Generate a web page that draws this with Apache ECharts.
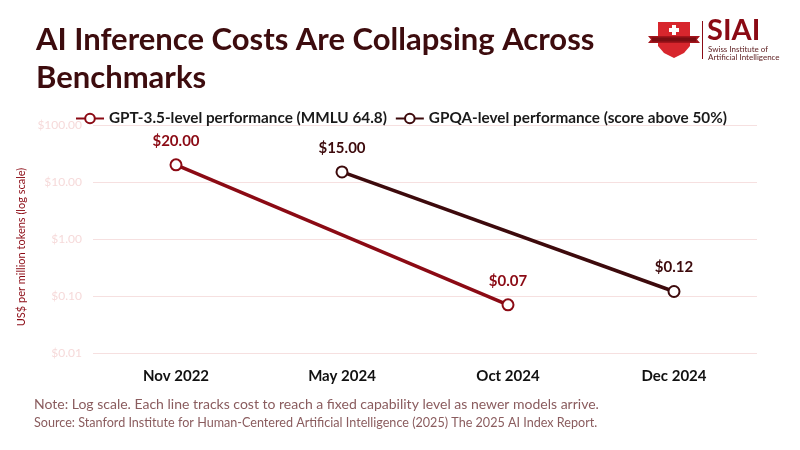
<!DOCTYPE html>
<html>
<head>
<meta charset="utf-8">
<script src="https://cdn.jsdelivr.net/npm/echarts@6/dist/echarts.min.js"></script>
<style>
html,body{margin:0;padding:0;background:#fff;}
#main{width:800px;height:450px;}
</style>
</head>
<body>
<div id="main"></div>
<script>
const categories = ['Nov 2022', 'May 2024', 'Oct 2024', 'Dec 2024'];
const gpt35Values = [20, null, 0.07, null];
const gpqaValues = [null, 15, null, 0.12];
const seriesNames = ['GPT-3.5-level performance (MMLU 64.8)', 'GPQA-level performance (score above 50%)'];
const yTicks = [0.01, 0.1, 1, 10, 100];

const FONT = 'Lato';
const chart = echarts.init(document.getElementById('main'));

function fmt(v){ return '$' + Number(v).toFixed(2); }

chart.setOption({
  backgroundColor: '#ffffff',
  textStyle: { fontFamily: FONT },
  title: {
    text: 'AI Inference Costs Are Collapsing Across\nBenchmarks',
    left: 31, top: 16,
    textStyle: { fontFamily: FONT, fontSize: 31, fontWeight: 'bold', color: '#3d0c0e', lineHeight: 38 }
  },
  legend: {
    top: 106, left: 70,
    itemWidth: 28, itemHeight: 12, itemGap: 8,
    textStyle: { fontFamily: FONT, fontSize: 15.3, fontWeight: 'bold', color: '#1a1a1a' },
    data: seriesNames
  },
  grid: { left: 93, right: 43, top: 125, bottom: 97, containLabel: false },
  xAxis: {
    type: 'category',
    data: categories,
    boundaryGap: true,
    axisLine: { show: false },
    axisTick: { show: false },
    axisLabel: { fontFamily: FONT, fontSize: 15, fontWeight: 'bold', color: '#111', margin: 16 }
  },
  yAxis: {
    type: 'log',
    logBase: 10,
    min: yTicks[0], max: yTicks[yTicks.length-1],
    name: 'US$ per million tokens (log scale)',
    nameLocation: 'middle',
    nameGap: 53,
    nameTextStyle: { fontFamily: FONT, fontSize: 11, color: '#8b0a14', padding: [0, 16, 0, 0] },
    axisLine: { show: false },
    axisTick: { show: false },
    axisLabel: { fontFamily: FONT, fontSize: 12, color: '#f6dada', margin: 11, formatter: fmt },
    splitLine: { lineStyle: { color: '#f6e0e0', width: 1 } }
  },
  series: [
    {
      name: seriesNames[0], type: 'line', data: gpt35Values, connectNulls: true,
      symbol: 'emptyCircle', symbolSize: 11,
      lineStyle: { color: '#8b0a14', width: 3.5 },
      itemStyle: { color: '#8b0a14', borderColor: '#8b0a14', borderWidth: 2.5 },
      label: { show: true, position: 'top', distance: 10, formatter: p => fmt(p.value), fontFamily: FONT, fontSize: 15, fontWeight: 'bold', color: '#8b0a14' }
    },
    {
      name: seriesNames[1], type: 'line', data: gpqaValues, connectNulls: true,
      symbol: 'emptyCircle', symbolSize: 11,
      lineStyle: { color: '#3d0a0c', width: 3.5 },
      itemStyle: { color: '#3d0a0c', borderColor: '#3d0a0c', borderWidth: 2.5 },
      label: { show: true, position: 'top', distance: 10, formatter: p => fmt(p.value), fontFamily: FONT, fontSize: 15, fontWeight: 'bold', color: '#3d0a0c' }
    }
  ],
  graphic: [
    { type: 'text', left: 34, top: 397, style: { text: 'Note: Log scale. Each line tracks cost to reach a fixed capability level as newer models arrive.', fontFamily: FONT, fontSize: 14, fill: '#8a5c5e' } },
    { type: 'text', left: 34, top: 416, style: { text: 'Source: Stanford Institute for Human-Centered Artificial Intelligence (2025) The 2025 AI Index Report.', fontFamily: FONT, fontSize: 12.6, fill: '#8a5c5e' } },
    { type: 'polygon', shape: { points: [[658,22],[690,22],[690,46],[684,53],[674,58],[664,53],[658,46]] }, style: { fill: '#d7262d' } },
    { type: 'polygon', shape: { points: [[648,36],[700,36],[697,39.5],[700,43],[648,43],[651,39.5]] }, style: { fill: '#a3141b' } },
    { type: 'rect', shape: { x: 652, y: 37.5, width: 44, height: 4 }, style: { fill: '#7a0d12' } },
    { type: 'rect', shape: { x: 672, y: 25, width: 4, height: 10 }, style: { fill: '#ffffff' } },
    { type: 'rect', shape: { x: 669, y: 28, width: 10, height: 4 }, style: { fill: '#ffffff' } },
    { type: 'rect', shape: { x: 702, y: 21, width: 1, height: 38 }, style: { fill: '#8b0a14' } },
    { type: 'text', x: 707, y: 16, style: { text: 'SIAI', fontFamily: FONT, fontSize: 29, fontWeight: 'bold', fill: '#8b0a14' } },
    { type: 'text', x: 708, y: 45, style: { text: 'Swiss Institute of\nArtificial Intelligence', fontFamily: FONT, fontSize: 8, lineHeight: 8.5, fill: '#5a1a1c' } }
  ]
});
</script>
</body>
</html>
